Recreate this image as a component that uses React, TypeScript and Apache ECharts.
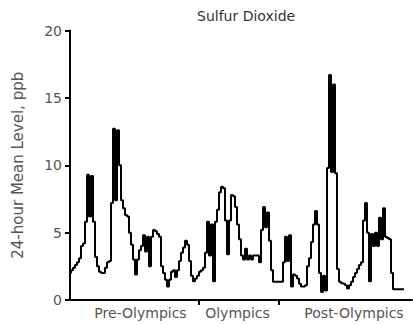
import React, { useEffect, useRef } from "react";
import * as echarts from "echarts";

const so2: number[] = [
  2.0, 2.2, 2.4, 2.6, 2.8, 3.1, 4.0, 4.2, 5.8, 9.3,
  6.2, 9.2, 5.8, 3.2, 2.5, 2.1, 2.0, 2.0, 2.4, 2.8,
  2.9, 7.2, 12.7, 7.4, 12.6, 10.0, 7.4, 6.8, 6.3, 6.2,
  5.0, 4.1, 3.0, 1.9, 3.0, 3.7, 4.0, 4.8, 3.6, 4.7,
  2.5, 4.7, 5.2, 5.1, 4.9, 4.7, 2.5, 2.0, 1.5, 1.0,
  1.5, 2.1, 2.2, 1.7, 2.2, 2.9, 3.5, 3.9, 4.4, 4.1,
  2.9, 1.8, 1.4, 1.6, 1.8, 2.1, 2.2, 2.4, 3.5, 5.8,
  3.3, 5.6, 1.4, 5.8, 6.7, 8.0, 8.4, 8.3, 5.9, 3.4,
  5.9, 7.8, 7.7, 6.9, 5.6, 4.5, 3.3, 3.0, 3.8, 3.0,
  3.3, 3.0, 3.3, 3.3, 3.3, 2.8, 5.2, 6.9, 5.4, 6.5,
  4.4, 2.2, 1.35, 1.35, 1.35, 1.35, 1.35, 2.8, 4.7, 2.9,
  4.8, 1.0, 1.9, 1.8, 1.6, 1.2, 1.0, 1.0, 1.1, 2.5,
  3.1, 4.3, 5.6, 6.6, 5.6, 2.0, 0.6, 1.8, 0.7, 9.8,
  16.7, 9.5, 16.0, 9.4, 2.3, 1.35, 1.25, 1.2, 1.1, 0.85,
  1.1, 1.35, 1.7, 2.0, 2.3, 2.6, 2.8, 5.9, 7.2, 5.0,
  1.4, 4.9, 4.0, 5.0, 4.0, 6.1, 4.5, 6.8, 4.7, 4.6,
  4.5, 2.0, 0.8, 0.8, 0.8, 0.8, 0.8, 0.8,
];

const phaseNames = ["Pre-Olympics", "Olympics", "Post-Olympics"];
const phaseCenters = [35.25, 83.75, 142];
const phaseBoundaries = [64.5, 104.5];
const xMax = 171;
const yMin = 0;
const yMax = 20;
const yInterval = 5;

const FONT = "DejaVu Sans";

export default function App() {
  const ref = useRef<HTMLDivElement>(null);

  useEffect(() => {
    if (!ref.current) return;
    const chart = echarts.init(ref.current, null, { renderer: "svg" });
    chart.setOption({
      animation: false,
      backgroundColor: "#ffffff",
      title: {
        text: "Sulfur Dioxide",
        left: 197,
        top: 9,
        padding: 0,
        textStyle: {
          fontFamily: FONT,
          fontSize: 14,
          fontWeight: "normal",
          color: "#333",
        },
      },
      grid: { left: 70, right: 1, top: 30.5, bottom: 25, containLabel: false },
      xAxis: {
        type: "value",
        min: 0,
        max: xMax,
        splitLine: { show: false },
        axisLine: { show: true, onZero: false, lineStyle: { color: "#000", width: 2 } },
        axisTick: {
          show: true,
          customValues: phaseBoundaries,
          length: 5,
          lineStyle: { color: "#000", width: 2 },
        },
        axisLabel: {
          show: true,
          customValues: phaseCenters,
          margin: 6,
          fontFamily: FONT,
          fontSize: 14,
          color: "#555",
          formatter: (v: number) => {
            let best = 0;
            phaseCenters.forEach((c, i) => {
              if (Math.abs(c - v) < Math.abs(phaseCenters[best] - v)) best = i;
            });
            return phaseNames[best];
          },
        },
      },
      yAxis: {
        type: "value",
        min: yMin,
        max: yMax,
        interval: yInterval,
        name: "24-hour Mean Level, ppb",
        nameLocation: "middle",
        nameGap: 45,
        nameTextStyle: { fontFamily: FONT, fontSize: 15, color: "#555" },
        splitLine: { show: false },
        axisLine: { show: true, lineStyle: { color: "#000", width: 2 } },
        axisTick: { show: true, length: 5, lineStyle: { color: "#000", width: 2 } },
        axisLabel: { margin: 8, fontFamily: FONT, fontSize: 14, color: "#555" },
      },
      series: [
        {
          type: "line",
          step: "middle",
          data: so2.map((v, i) => [i, v]),
          showSymbol: false,
          symbol: "none",
          lineStyle: { color: "#000", width: 2 },
          clip: false,
        },
      ],
    });
    return () => chart.dispose();
  }, []);

  return (
    <div
      ref={ref}
      style={{ position: "fixed", left: 0, top: 0, width: 413, height: 325 }}
    />
  );
}
